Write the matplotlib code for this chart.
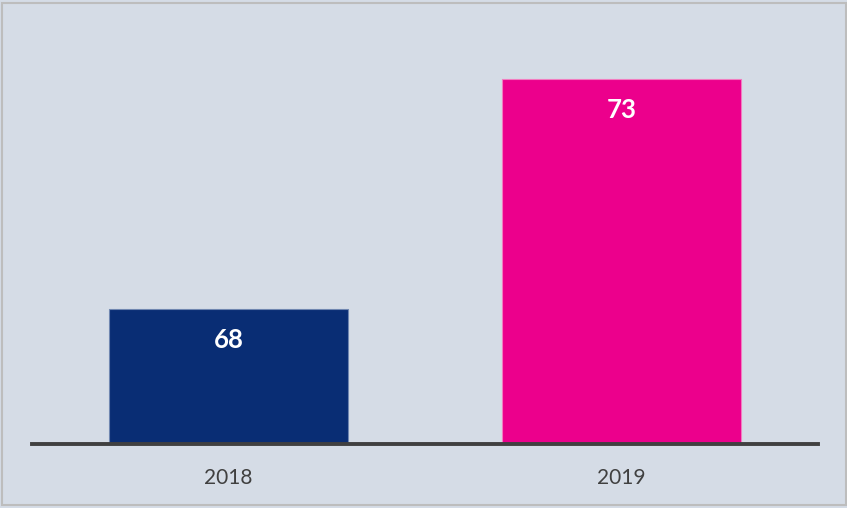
import matplotlib
matplotlib.use("Agg")
import matplotlib.pyplot as plt
from matplotlib.patches import Rectangle

categories = ["2018", "2019"]
values = [68, 73]
colors = ["#092D74", "#EC008C"]
edge_colors = ["#6F86B0", "#F27CC0"]

W, H = 847, 508
fig = plt.figure(figsize=(W / 100, H / 100), dpi=100)
bg = "#D5DCE6"
fig.patch.set_facecolor(bg)

# outer border
fig.add_artist(Rectangle((1.5 / W, 3.5 / H), (W - 3) / W, (H - 6) / H,
                         transform=fig.transFigure, facecolor="none",
                         edgecolor="#BDBDBD", linewidth=1.5))

left, right, top, bottom = 32, 818, 30, 444
ax = fig.add_axes([left / W, (H - bottom) / H, (right - left) / W, (bottom - top) / H])
ax.set_facecolor(bg)
ax.patch.set_alpha(0)

x = list(range(len(categories)))
bars = ax.bar(x, values, width=0.606, color=colors, edgecolor=edge_colors,
              linewidth=0.8, bottom=0, zorder=2)
ax.set_xlim(-0.5, 1.5)
ax.set_ylim(65.07, 74.07)

for xi, v in zip(x, values):
    ax.annotate(str(v), (xi, v), xytext=(0, -31), textcoords="offset pixels",
                ha="center", va="center", color="white", fontsize=18.5,
                fontweight="bold", family="Lato", zorder=3)

for s in ["top", "right", "left"]:
    ax.spines[s].set_visible(False)
ax.spines["bottom"].set_color("#404040")
ax.spines["bottom"].set_linewidth(2.8)
ax.spines["bottom"].set_zorder(4)
ax.set_yticks([])
ax.set_xticks(x)
ax.set_xticklabels(categories, fontsize=15, color="#404040", family="Lato")
ax.tick_params(axis="x", length=0, pad=17)

fig.savefig("out.png", dpi=100, facecolor=bg)
